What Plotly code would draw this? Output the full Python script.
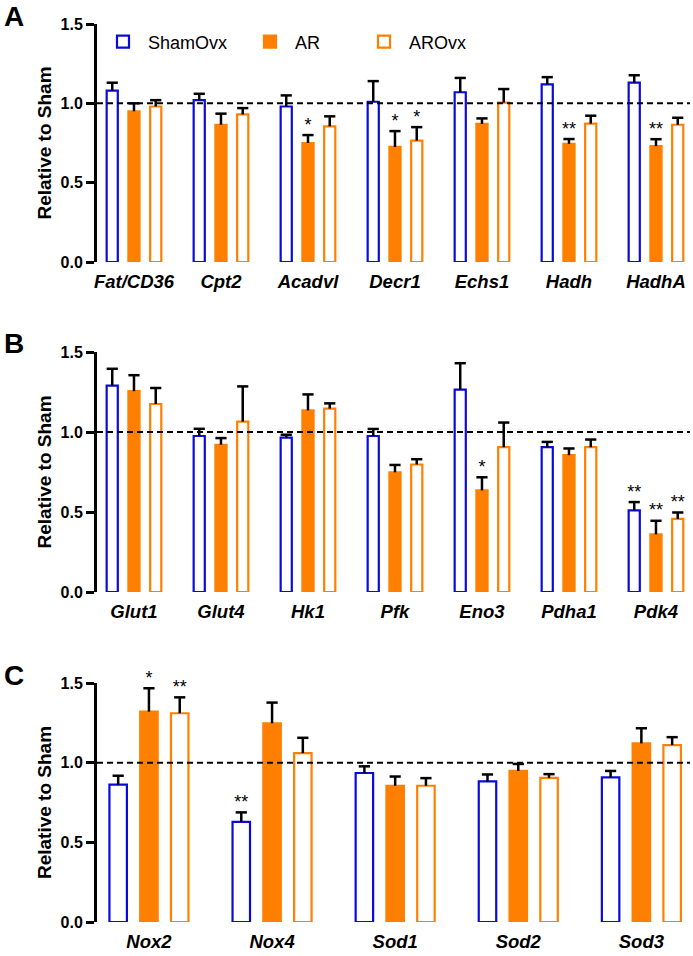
import plotly.graph_objects as go

# ---------------- data ----------------
series_names = ["ShamOvx", "AR", "AROvx"]

A_genes = ["Fat/CD36", "Cpt2", "Acadvl", "Decr1", "Echs1", "Hadh", "HadhA"]
A_sham = [1.08, 1.02, 0.98, 1.01, 1.07, 1.12, 1.13]
A_sham_err = [0.05, 0.04, 0.07, 0.13, 0.09, 0.045, 0.047]
A_ar = [0.95, 0.865, 0.75, 0.725, 0.87, 0.745, 0.73]
A_ar_err = [0.05, 0.07, 0.05, 0.10, 0.035, 0.03, 0.044]
A_arovx = [0.98, 0.93, 0.855, 0.765, 1.005, 0.872, 0.865]
A_arovx_err = [0.04, 0.04, 0.063, 0.085, 0.085, 0.05, 0.044]
A_sig_sham = ["", "", "", "", "", "", ""]
A_sig_ar = ["", "", "*", "*", "", "**", "**"]
A_sig_arovx = ["", "", "", "*", "", "", ""]

B_genes = ["Glut1", "Glut4", "Hk1", "Pfk", "Eno3", "Pdha1", "Pdk4"]
B_sham = [1.29, 0.975, 0.965, 0.975, 1.265, 0.905, 0.51]
B_sham_err = [0.105, 0.045, 0.018, 0.044, 0.165, 0.033, 0.052]
B_ar = [1.255, 0.92, 1.135, 0.748, 0.635, 0.855, 0.36]
B_ar_err = [0.10, 0.042, 0.10, 0.046, 0.082, 0.042, 0.085]
B_arovx = [1.175, 1.065, 1.146, 0.797, 0.905, 0.905, 0.457]
B_arovx_err = [0.10, 0.22, 0.033, 0.033, 0.154, 0.048, 0.04]
B_sig_sham = ["", "", "", "", "", "", "**"]
B_sig_ar = ["", "", "", "", "*", "", "**"]
B_sig_arovx = ["", "", "", "", "", "", "**"]

C_genes = ["Nox2", "Nox4", "Sod1", "Sod2", "Sod3"]
C_sham = [0.862, 0.628, 0.935, 0.882, 0.908]
C_sham_err = [0.056, 0.06, 0.042, 0.044, 0.04]
C_ar = [1.32, 1.247, 0.855, 0.948, 1.121]
C_ar_err = [0.147, 0.13, 0.058, 0.044, 0.095]
C_arovx = [1.31, 1.06, 0.855, 0.905, 1.11]
C_arovx_err = [0.10, 0.096, 0.048, 0.023, 0.05]
C_sig_sham = ["", "**", "", "", ""]
C_sig_ar = ["*", "", "", "", ""]
C_sig_arovx = ["**", "", "", "", ""]

y_ticks = [0, 0.5, 1.0, 1.5]
panel_letters = ["A", "B", "C"]

# ---------------- style ----------------
W, H = 693, 956
ML, MR = 97, 3
PW = W - ML - MR
FONT = "Liberation Sans, Arial, sans-serif"
BLUE = "#0A0ADC"
ORANGE = "#FF8000"
fills = ["white", ORANGE, "white"]
lines = [BLUE, ORANGE, ORANGE]
offsets = [-0.25, 0.0, 0.25]
legend_keys = ["legend", "legend2", "legend3"]
legend_left_px = [98, 245, 359]

panels = [
    (A_genes, [A_sham, A_ar, A_arovx], [A_sham_err, A_ar_err, A_arovx_err],
     [A_sig_sham, A_sig_ar, A_sig_arovx]),
    (B_genes, [B_sham, B_ar, B_arovx], [B_sham_err, B_ar_err, B_arovx_err],
     [B_sig_sham, B_sig_ar, B_sig_arovx]),
    (C_genes, [C_sham, C_ar, C_arovx], [C_sham_err, C_ar_err, C_arovx_err],
     [C_sig_sham, C_sig_ar, C_sig_arovx]),
]
ypix = [(24, 262), (352, 592), (683, 922)]
xranges = [[-0.425, 6.391], [-0.425, 6.391], [-0.422, 4.395]]
barwidths = [0.128, 0.128, 0.142]

fig = go.Figure()

for p, (genes, vals, errs, sigs) in enumerate(panels):
    xa = "x" if p == 0 else f"x{p+1}"
    ya = "y" if p == 0 else f"y{p+1}"
    idx = list(range(len(genes)))
    for s in range(3):
        xs = [i + offsets[s] for i in idx]
        fig.add_trace(go.Bar(
            x=xs, y=vals[s], width=barwidths[p], name=series_names[s],
            legend=legend_keys[s],
            legendgroup=series_names[s], showlegend=(p == 0),
            marker=dict(color=fills[s], line=dict(color=lines[s], width=2.2)),
            error_y=dict(type="data", symmetric=False, array=errs[s],
                         arrayminus=[0] * len(genes), width=0,
                         thickness=2.5, color="black"),
            xaxis=xa, yaxis=ya, hoverinfo="skip",
        ))
        tops = [v + e for v, e in zip(vals[s], errs[s])]
        fig.add_trace(go.Scatter(
            x=xs, y=tops, mode="markers", showlegend=False,
            marker=dict(symbol="line-ew", size=8, color="black",
                        line=dict(color="black", width=2.5)),
            xaxis=xa, yaxis=ya, cliponaxis=False, hoverinfo="skip",
        ))
        fig.add_trace(go.Scatter(
            x=xs, y=tops, mode="text", text=sigs[s], showlegend=False,
            textposition="top center",
            textfont=dict(family=FONT, size=18, color="black"),
            xaxis=xa, yaxis=ya, cliponaxis=False, hoverinfo="skip",
        ))

    y0, y1 = ypix[p]
    dom_y = [1 - y1 / H, 1 - y0 / H]
    xkey = "xaxis" if p == 0 else f"xaxis{p+1}"
    ykey = "yaxis" if p == 0 else f"yaxis{p+1}"
    fig.update_layout(**{
        xkey: dict(domain=[0, 1], anchor=ya, range=xranges[p],
                   automargin=False,
                   tickvals=idx, ticktext=genes, showline=False,
                   showgrid=False, zeroline=False, ticks="",
                   ticklabelstandoff=6,
                   tickfont=dict(family=FONT, size=18.5, color="black",
                                 weight="bold", style="italic")),
        ykey: dict(domain=dom_y, anchor=xa, range=[0, 1.5],
                   automargin=False,
                   tickvals=y_ticks, tickformat=".1f",
                   showline=True, linewidth=3, linecolor="black",
                   ticks="outside", ticklen=8, tickwidth=3, tickcolor="black",
                   showgrid=False, zeroline=False,
                   tickfont=dict(family=FONT, size=16, color="black",
                                 weight="bold"),
                   title=dict(text="Relative to Sham", standoff=4,
                              font=dict(family=FONT, size=19, color="black",
                                        weight="bold"))),
    })
    fig.add_shape(type="line", xref=f"{xa} domain", yref=ya,
                  x0=0, x1=1, y0=1, y1=1, layer="above",
                  line=dict(color="black", width=2, dash="6px,4px"))
    fig.add_annotation(text=panel_letters[p], xref="paper", yref="paper",
                       x=(14 - ML) / PW, y=1 - (y0 - 8) / H,
                       xanchor="center", yanchor="middle", showarrow=False,
                       font=dict(family=FONT, size=28, color="black",
                                 weight="bold"))

legend_common = dict(orientation="h", yanchor="middle", xanchor="left",
                     y=1 - 42 / H, bgcolor="rgba(0,0,0,0)", borderwidth=0,
                     itemwidth=40,
                     font=dict(family=FONT, size=18, color="black"))
fig.update_layout(
    template="none",
    width=W, height=H,
    margin=dict(l=ML, r=MR, t=0, b=0, autoexpand=False),
    paper_bgcolor="white", plot_bgcolor="white",
    barmode="overlay",
    showlegend=True,
    legend=dict(x=(legend_left_px[0] - ML) / PW, **legend_common),
    legend2=dict(x=(legend_left_px[1] - ML) / PW, **legend_common),
    legend3=dict(x=(legend_left_px[2] - ML) / PW, **legend_common),
)

fig.write_html(
    "out.html",
    config={"displayModeBar": False},
    post_script="document.body.style.margin='0px';"
                "document.body.style.padding='0px';"
                "document.body.style.overflow='hidden';",
)
